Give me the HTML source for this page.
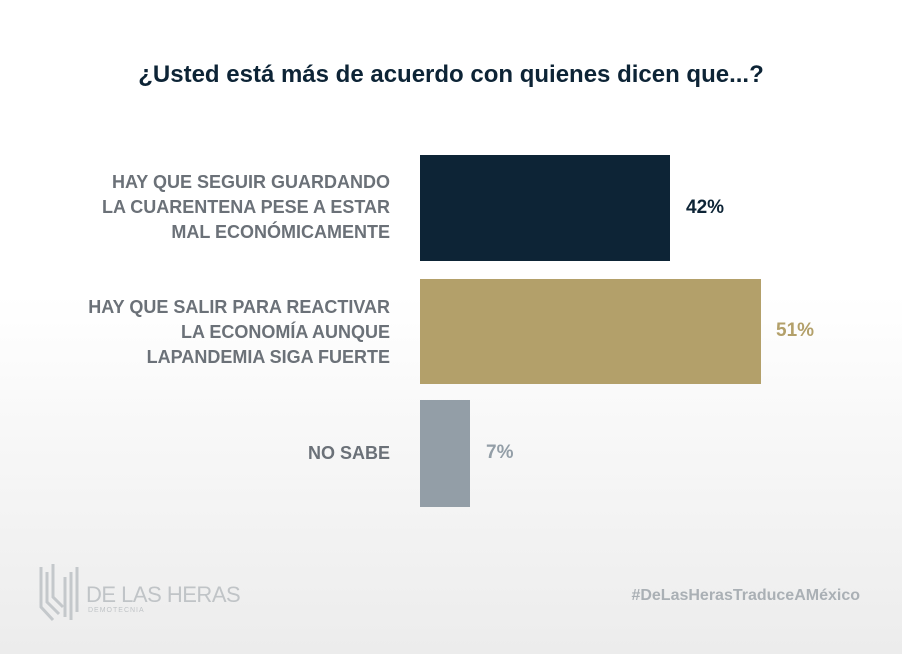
<!DOCTYPE html>
<html><head><meta charset="utf-8"><style>
body{margin:0;width:902px;height:654px;overflow:hidden;background:linear-gradient(#fff 0,#fff 45%,#ececec 100%);font-family:"Liberation Sans",sans-serif;position:relative}
.t{position:absolute;left:0;width:902px;top:61px;text-align:center;font-size:24px;font-weight:bold;color:#0d2436}
.l{position:absolute;right:512px;text-align:right;font-size:18px;font-weight:bold;color:#6b7178;line-height:25px}
.b{position:absolute;left:420px}
.v{position:absolute;font-size:19px;font-weight:bold}
</style></head><body>
<div class="t">¿Usted está más de acuerdo con quienes dicen que...?</div>
<div class="l" style="top:170px">HAY QUE SEGUIR GUARDANDO<br>LA CUARENTENA PESE A ESTAR<br>MAL ECONÓMICAMENTE</div>
<div class="b" style="top:155px;width:250px;height:106px;background:#0d2436"></div>
<div class="v" style="left:686px;top:197px;color:#0d2436">42%</div>
<div class="l" style="top:295px">HAY QUE SALIR PARA REACTIVAR<br>LA ECONOMÍA AUNQUE<br>LAPANDEMIA SIGA FUERTE</div>
<div class="b" style="top:279px;width:341px;height:105px;background:#b3a06a"></div>
<div class="v" style="left:776px;top:320px;color:#b3a06a">51%</div>
<div class="l" style="top:441px">NO SABE</div>
<div class="b" style="top:400px;width:50px;height:107px;background:#939ea7"></div>
<div class="v" style="left:486px;top:442px;color:#939ea7">7%</div>
<svg style="position:absolute;left:38px;top:562px" width="42" height="62"><g fill="none" stroke="#c4c8cb" stroke-width="3"><path d="M3 5V45L15 58"/><path d="M9 10V40L21 52"/><path d="M15 2V35L25 45"/><path d="M27 15V55"/><path d="M33 10V58"/><path d="M39 5V50"/></g></svg>
<div style="position:absolute;left:86px;top:582px;font-size:22px;color:#c0c4c7;letter-spacing:-0.5px">DE LAS HERAS</div>
<div style="position:absolute;left:88px;top:607px;font-size:7px;letter-spacing:1px;color:#c0c4c7">DEMOTECNIA</div>
<div style="position:absolute;right:42px;top:587px;font-size:16px;font-weight:bold;color:#aab0b5">#DeLasHerasTraduceAMéxico</div>
</body></html>
